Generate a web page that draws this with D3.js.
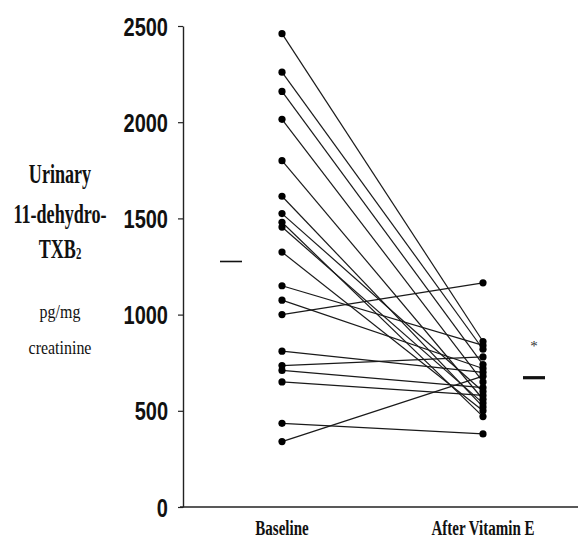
<!DOCTYPE html>
<html>
<head>
<meta charset="utf-8">
<script src="https://cdn.jsdelivr.net/npm/d3@7"></script>
<style>
  body { margin: 0; background: #fff; }
  svg { display: block; }
</style>
</head>
<body>
<div id="chart"></div>
<script>
// paired measurements, one entry per subject
const baseline = [2460, 2260, 2160, 2015, 1800, 1615, 1525, 1480, 1455, 1325,
                  1150, 1075, 1000, 810, 735, 710, 650, 435, 340];
const afterVitE = [860, 820, 740, 650, 560, 520, 600, 470, 540, 500,
                   840, 720, 1165, 700, 780, 620, 580, 380, 680];
const groups = ["Baseline", "After Vitamin E"];
const groupMeans = [1276, 672];
const yTicks = [0, 500, 1000, 1500, 2000, 2500];

const width = 580, height = 547;

const svg = d3.select("#chart").append("svg")
    .attr("width", width)
    .attr("height", height);

// scales
let y = d3.scaleLinear().domain([0, 2500]).range([507, 26]);
let x = d3.scalePoint().domain(groups).range([282, 483]);
const axisX = 183;

// y axis
let yAxis = svg.append("g")
    .attr("transform", "translate(" + axisX + ",0)")
    .call(d3.axisLeft(y).tickValues(yTicks).tickFormat(d3.format("d"))
        .tickSize(5).tickSizeOuter(0));

yAxis.select(".domain").attr("stroke", "#222").attr("stroke-width", 1.4);
yAxis.selectAll(".tick line").attr("stroke", "#222").attr("stroke-width", 1.2);
yAxis.selectAll(".tick text")
    .attr("x", 0)
    .attr("dy", "0.36em")
    .attr("transform", "translate(-15,0) scale(0.8,1)")
    .style("font-family", "'Liberation Sans', Arial, sans-serif")
    .style("font-weight", "bold")
    .style("font-size", "25px")
    .attr("fill", "#111");

// x axis line, no ticks
svg.append("line")
    .attr("x1", axisX - 3).attr("x2", 578)
    .attr("y1", y(0)).attr("y2", y(0))
    .attr("stroke", "#222")
    .attr("stroke-width", 1.5);

// group labels
svg.selectAll(".group-label")
    .data(groups)
    .enter()
    .append("text")
    .attr("class", "group-label")
    .attr("transform", d => "translate(" + x(d) + ",535) scale(0.75,1)")
    .attr("text-anchor", "middle")
    .style("font-family", "'Liberation Serif', 'Times New Roman', serif")
    .style("font-weight", "bold")
    .style("font-size", "20px")
    .attr("fill", "#111")
    .text(d => d);

// y axis title
const titleLines = [
    {t: "Urinary", y: 183, size: 27, bold: true},
    {t: "11-dehydro-", y: 223, size: 27, bold: true},
    {t: "TXB", sub: "2", y: 258, size: 27, bold: true},
    {t: "pg/mg", y: 318, size: 19, bold: false},
    {t: "creatinine", y: 354, size: 19, bold: false}
];

titleLines.forEach(l => {
    let txt = svg.append("text")
        .attr("transform", "translate(60," + l.y + ") scale(" + (l.bold ? 0.67 : 0.84) + ",1)")
        .attr("text-anchor", "middle")
        .style("font-family", "'Liberation Serif', 'Times New Roman', serif")
        .style("font-weight", l.bold ? "bold" : "normal")
        .style("font-size", l.size + "px")
        .attr("fill", "#111");
    txt.append("tspan").text(l.t);
    if (l.sub) {
        txt.append("tspan")
            .attr("dy", "0.05em")
            .style("font-size", "16px")
            .text(l.sub);
    }
});

// connecting lines between paired values
let pairs = baseline.map((b, i) => ({before: b, after: afterVitE[i]}));

svg.selectAll(".pair")
    .data(pairs)
    .enter()
    .append("line")
    .attr("class", "pair")
    .attr("x1", x(groups[0]))
    .attr("y1", d => y(d.before))
    .attr("x2", x(groups[1]))
    .attr("y2", d => y(d.after))
    .attr("stroke", "#1a1a1a")
    .attr("stroke-width", 1.2);

// points
svg.selectAll(".dot-b")
    .data(baseline)
    .enter()
    .append("circle")
    .attr("cx", x(groups[0]))
    .attr("cy", d => y(d))
    .attr("r", 3.6)
    .attr("fill", "#000");

svg.selectAll(".dot-a")
    .data(afterVitE)
    .enter()
    .append("circle")
    .attr("cx", x(groups[1]))
    .attr("cy", d => y(d))
    .attr("r", 3.6)
    .attr("fill", "#000");

// group means
const meanOffset = [-51, 51];
const meanWidth = [1.6, 3.2];
groups.forEach((g, i) => {
    svg.append("line")
        .attr("x1", x(g) + meanOffset[i] - 11)
        .attr("x2", x(g) + meanOffset[i] + 11)
        .attr("y1", y(groupMeans[i]))
        .attr("y2", y(groupMeans[i]))
        .attr("stroke", "#111")
        .attr("stroke-width", meanWidth[i]);
});

// significance mark
svg.append("text")
    .attr("x", x(groups[1]) + 51)
    .attr("y", y(groupMeans[1]) - 27)
    .attr("text-anchor", "middle")
    .style("font-family", "'Liberation Serif', serif")
    .style("font-size", "15px")
    .attr("fill", "#333")
    .text("*");
</script>
</body>
</html>
